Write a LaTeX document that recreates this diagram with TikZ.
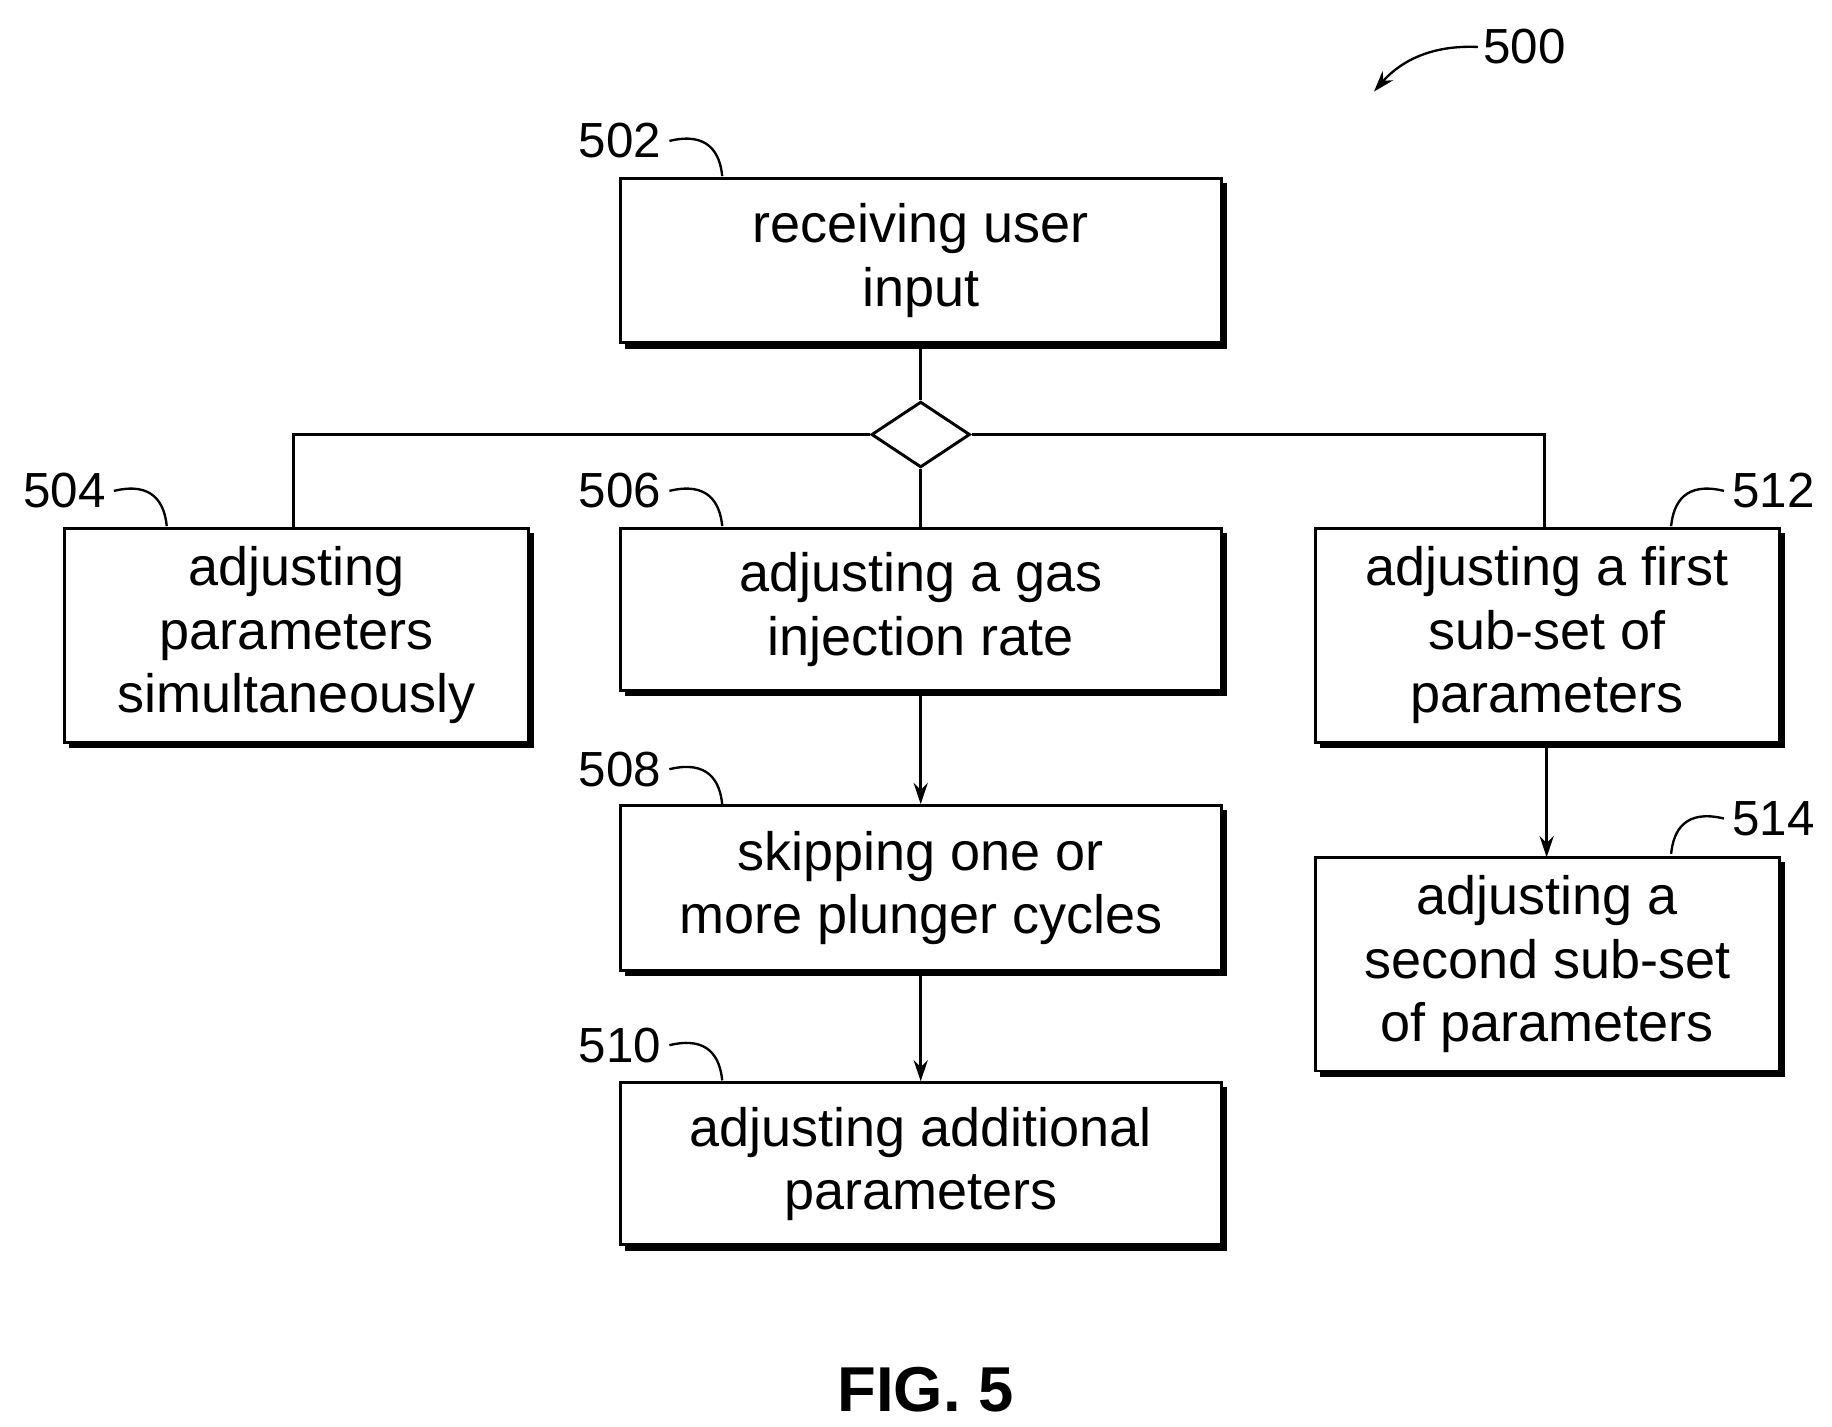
\documentclass[tikz,border=0pt]{standalone}
\usepackage{fontspec}
\setmainfont{Liberation Sans}
\usetikzlibrary{arrows.meta,shapes.geometric}
\begin{document}
\begin{tikzpicture}[x=1pt,y=-1pt,line width=2.5pt,
 box/.style={draw,fill=white,minimum width=512pt,align=center,font=\fontsize{46}{54}\selectfont,inner sep=0pt},
 sbox/.style={box,minimum width=395pt},
 lab/.style={font=\fontsize{42}{46}\selectfont},
 arr/.style={-{Stealth[length=18pt,width=12pt]}},
 shad/.style={line width=4pt}]
\useasboundingbox (0,0) rectangle (1560,1215);
\def\B#1#2#3#4#5#6{% name,x1,y1,x2,y2,text
 \draw[shad] (#2+4,#5+3)--(#4+3,#5+3)--(#4+3,#3+4);
 \node[draw,fill=white,minimum width=#4-#2,minimum height=#5-#3,align=center,font=\fontsize{46}{54}\selectfont,inner sep=0pt] (#1) at ({(#2+#4)/2},{(#3+#5)/2}) {#6};}
\B{b502}{528}{152}{1040}{292}{receiving user\\input}
\B{b504}{55}{450}{450}{632}{adjusting\\parameters\\simultaneously}
\B{b506}{528}{450}{1040}{588}{adjusting a gas\\injection rate}
\B{b508}{528}{686}{1040}{826}{skipping one or\\more plunger cycles}
\B{b510}{528}{922}{1040}{1060}{adjusting additional\\parameters}
\B{b512}{1120}{450}{1515}{632}{adjusting a first\\sub-set of\\parameters}
\B{b514}{1120}{730}{1515}{912}{adjusting a\\second sub-set\\of parameters}
\node[draw,diamond,minimum width=84pt,minimum height=56pt,inner sep=0pt,line width=2.5pt] (d) at (784,370) {};
\draw (b502.south)--(d.north);
\draw (d.west)--(250,370) coordinate (cl)--(cl |- b504.north);
\draw (d.east)--(1315,370) coordinate (cr)--(cr |- b512.north);
\draw (d.south)--(b506.north);
\draw[arr] (b506.south)--(b508.north);
\draw[arr] (b508.south)--(b510.north);
\draw[arr] (1317,632)--(1317,730);
\foreach \n/\x/\y in {502/528/120,504/55/418,506/528/418,508/528/655,510/528/890}{
 \node[lab] (l\n) at (\x,\y) {\n};
 \draw[line width=2pt] (\x+42,\y) .. controls (\x+75,\y-8) and (\x+85,\y+10) .. (\x+87,\y+30);}
\foreach \n/\x/\y in {512/1510/418,514/1510/697}{
 \node[lab] (l\n) at (\x,\y) {\n};
 \draw[line width=2pt] (\x-42,\y) .. controls (\x-75,\y-8) and (\x-85,\y+10) .. (\x-87,\y+30);}
\node[lab] (l500) at (1298,40) {500};
\draw[line width=2pt,arr] (l500.west) .. controls (1215,38) and (1190,55) .. (1170,78);
\node[font=\bfseries\fontsize{54}{60}\selectfont] (fig) at (788,1183) {FIG. 5};
\end{tikzpicture}
\end{document}
